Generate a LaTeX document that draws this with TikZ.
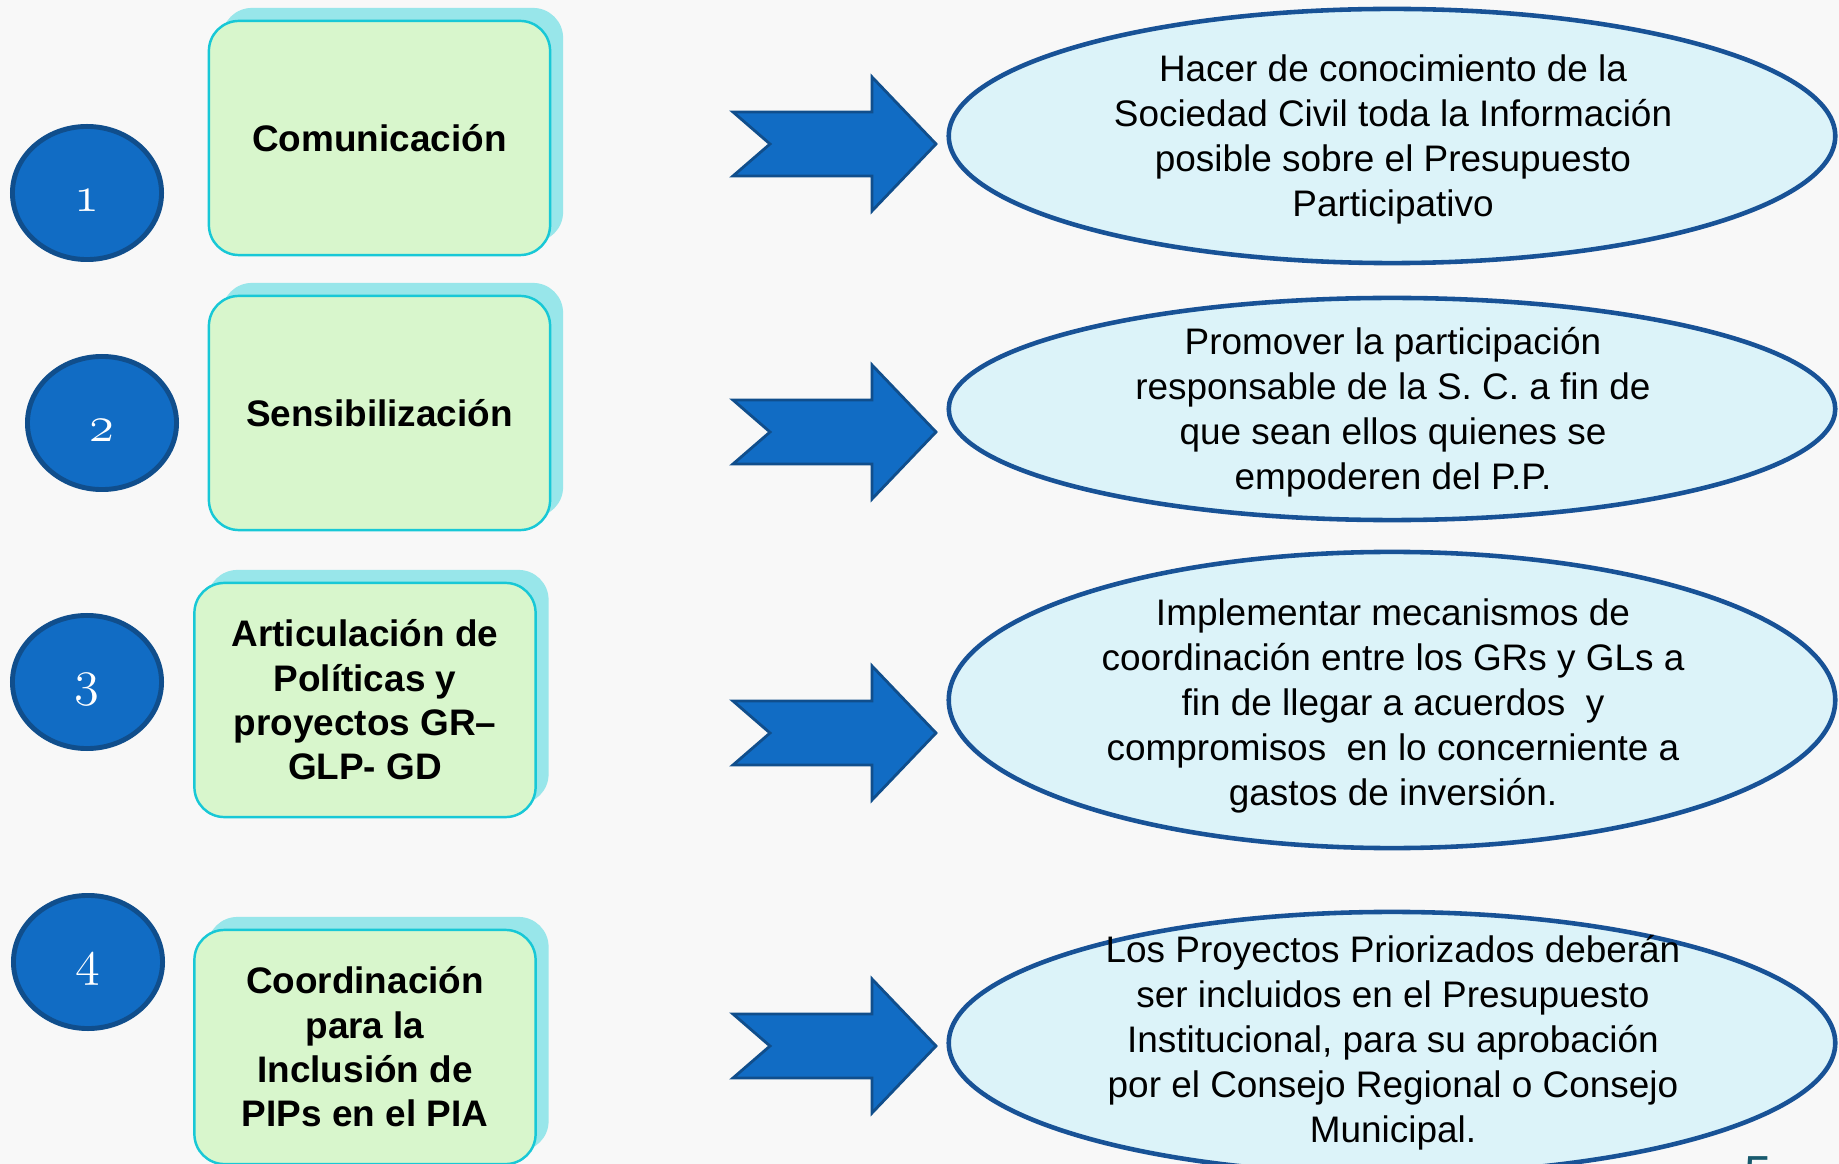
\documentclass[tikz,border=0pt]{standalone}
\usepackage{fontspec}
\setmainfont{Liberation Sans}
\usetikzlibrary{shapes.geometric,shadows}

\definecolor{bgpage}{RGB}{248,248,248}
\definecolor{numblue}{RGB}{17,108,196}
\definecolor{numedge}{RGB}{16,78,140}
\definecolor{boxgreen}{RGB}{216,246,204}
\definecolor{boxedge}{RGB}{24,200,214}
\definecolor{boxshade}{RGB}{152,230,234}
\definecolor{bubblefill}{RGB}{220,243,249}
\definecolor{bubbleedge}{RGB}{24,82,150}
\definecolor{pagenum}{RGB}{24,90,110}

\tikzset{
  numdot/.style={ellipse, draw=numedge, line width=1.4pt, fill=numblue,
    minimum width=1.49cm, minimum height=1.33cm, text=white,
    font=\fontsize{14.4}{16}\usefont{OML}{cmm}{m}{it}},
  topicbox/.style={rectangle, rounded corners=0.3cm, draw=boxedge, line width=0.7pt,
    fill=boxgreen, minimum width=3.41cm, minimum height=2.34cm, align=center,
    font=\fontsize{10.5}{12.6}\selectfont\bfseries,
    drop shadow={shadow xshift=0.13cm, shadow yshift=0.13cm, fill=boxshade, opacity=1}},
  bubble/.style={ellipse, draw=bubbleedge, line width=1.3pt, fill=bubblefill,
    minimum width=8.86cm, inner sep=0pt},
  bubbletext/.style={align=center, font=\fontsize{10.5}{12.8}\selectfont},
  blockarrow/.style={fill=numblue, draw=numedge, line width=0.8pt, line join=miter}
}

\begin{document}
\begin{tikzpicture}[x=0.01cm, y=-0.01cm]
  \useasboundingbox (0,0) rectangle (1839,1164);
  \clip (0,0) rectangle (1839,1164);
  \fill[bgpage] (0,0) rectangle (1839,1164);

  % numbers on the left
  \foreach \n/\x/\y in {1/87/193, 2/102/423, 3/87/682, 4/88/962} {
    \node[numdot] (num\n) at (\x,\y) {};
    \node[text=white, font=\fontsize{14.4}{16}\usefont{OML}{cmm}{m}{it}, yshift=-0.08cm] (numtext\n) at (num\n) {\n};
  }

  % topics
  \node[topicbox] (topic1) at (379.5,138) {Comunicación};
  \node[topicbox] (topic2) at (379.5,413) {Sensibilización};
  \node[topicbox] (topic3) at (365,700) {Articulación de\\Políticas y\\proyectos GR–\\GLP- GD};
  \node[topicbox] (topic4) at (365,1047) {Coordinación\\para la\\Inclusión de\\PIPs en el PIA};

  % arrows
  \foreach \y in {144,432,733,1046} {
    \draw[blockarrow] (733,\y-32) -- (872,\y-32) -- (872,\y-67) -- (936,\y)
      -- (872,\y+67) -- (872,\y+32) -- (733,\y+32) -- (770,\y) -- cycle;
  }

  % aims
  \node[bubble, minimum height=2.54cm] (aim1) at (1392,136) {};
  \node[bubble, minimum height=2.22cm] (aim2) at (1392,409) {};
  \node[bubble, minimum height=2.96cm] (aim3) at (1392,700) {};
  \node[bubble, minimum height=2.62cm] (aim4) at (1392,1043) {};

  \node[bubbletext] (aimtext1) at (1393,139) {Hacer de conocimiento de la\\Sociedad Civil toda la Información\\posible sobre el Presupuesto\\Participativo};
  \node[bubbletext] (aimtext2) at (1393,412) {Promover la participación\\responsable de la S. C. a fin de\\que sean ellos quienes se\\empoderen del P.P.};
  \node[bubbletext] (aimtext3) at (1393,706) {Implementar mecanismos de\\coordinación entre los GRs y GLs a\\fin de llegar a acuerdos\ \ y\\compromisos\ \ en lo concerniente a\\gastos de inversión.};
  \node[bubbletext] (aimtext4) at (1393,1043) {Los Proyectos Priorizados deberán\\ser incluidos en el Presupuesto\\Institucional, para su aprobación\\por el Consejo Regional o Consejo\\Municipal.};

  \node[anchor=north, inner sep=0pt, text=pagenum, font=\fontsize{14}{16}\selectfont] (pagenum) at (1758,1156) {5};
\end{tikzpicture}
\end{document}
